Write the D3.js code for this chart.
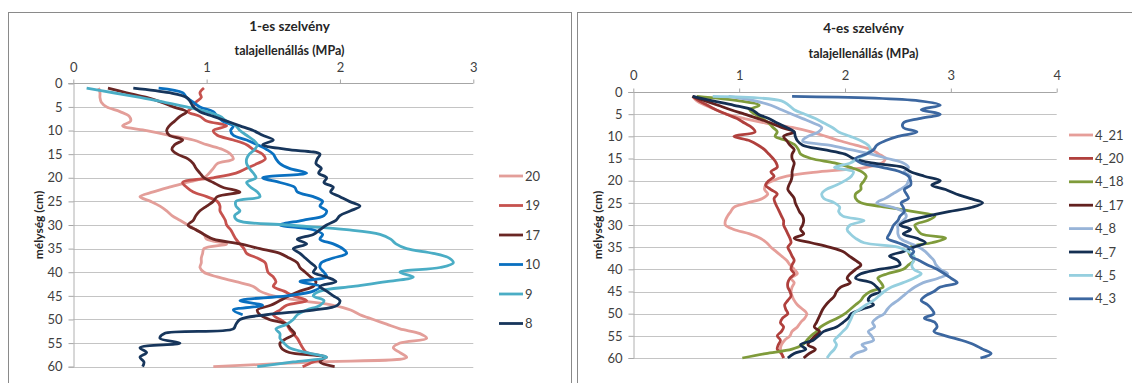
<!DOCTYPE html>
<html>
<head>
<meta charset="utf-8">
<script src="https://cdn.jsdelivr.net/npm/d3@7"></script>
<style>
  body { margin: 0; background: #fff; }
  svg { display: block; font-family: Lato, "Liberation Sans", sans-serif; }
</style>
</head>
<body>
<div id="chart"></div>
<script>
// depth in cm (shared by every profile)
const depths = [1,2,3,4,5,6,7,8,9,10,11,12,13,14,15,16,17,18,19,20,21,22,23,24,25,26,27,28,29,30,
  31,32,33,34,35,36,37,38,39,40,41,42,43,44,45,46,47,48,49,50,51,52,53,54,55,56,57,58,59,60];

// 1-es szelvény, talajellenállás (MPa)
const p1_20 = [0.19,0.2,0.2,0.21,0.25,0.35,0.42,0.43,0.37,0.55,0.72,0.9,1.0,1.12,1.18,1.2,1.08,1.05,1.02,0.98,
  0.85,0.72,0.6,0.5,0.58,0.65,0.7,0.74,0.8,0.86,0.92,0.98,1.0,1.15,0.98,0.97,0.96,0.96,0.95,0.98,
  1.08,1.22,1.35,1.4,1.5,1.7,1.95,2.08,2.15,2.25,2.35,2.45,2.6,2.65,2.45,2.4,2.45,2.5,1.8,1.05];
const p1_19 = [0.98,0.95,0.96,0.92,0.9,0.86,0.95,1.0,1.15,1.05,1.08,1.2,1.3,1.35,1.42,1.44,1.38,1.3,1.22,1.05,
  0.82,0.85,0.9,1.0,1.08,1.1,1.1,1.12,1.14,1.15,1.18,1.2,1.22,1.25,1.28,1.3,1.38,1.44,1.45,1.46,
  1.5,1.52,1.5,1.58,1.65,1.75,1.6,1.55,1.5,1.55,1.6,1.62,1.65,1.68,1.7,1.72,1.75,1.9,1.8,1.72];
const p1_17 = [0.26,0.4,0.55,0.66,0.75,0.85,0.8,0.76,0.72,0.7,0.72,0.82,0.76,0.74,0.78,0.86,0.9,0.92,0.95,0.98,
  1.05,1.12,1.25,1.08,1.05,1.0,0.95,0.92,0.9,0.86,0.92,0.98,1.05,1.25,1.4,1.55,1.62,1.68,1.7,1.74,
  1.78,1.82,1.8,1.7,1.62,1.55,1.48,1.38,1.4,1.47,1.6,1.63,1.66,1.6,1.55,1.56,1.62,1.88,1.85,1.96];
const p1_10 = [0.64,0.82,0.85,0.9,0.95,1.05,1.08,1.12,1.2,1.18,1.2,1.3,1.38,1.45,1.5,1.52,1.55,1.62,1.75,1.42,
  1.55,1.66,1.68,1.8,1.87,1.85,1.9,1.88,1.72,1.55,1.8,1.87,1.85,1.95,2.02,2.05,1.95,1.86,1.85,1.88,
  1.9,1.7,1.85,1.8,1.6,1.25,1.42,1.2,1.27];
const p1_9 = [0.1,0.3,0.5,0.68,0.85,1.0,1.1,1.15,1.22,1.25,1.3,1.35,1.38,1.36,1.32,1.3,1.3,1.32,1.35,1.37,
  1.3,1.33,1.38,1.4,1.22,1.22,1.25,1.21,1.23,1.6,2.05,2.3,2.38,2.42,2.5,2.7,2.82,2.85,2.75,2.45,
  2.55,2.35,2.1,1.85,1.8,1.88,1.85,1.75,1.68,1.65,1.6,1.52,1.55,1.55,1.58,1.62,1.75,1.9,1.65,1.38];
const p1_8 = [0.45,0.72,0.85,0.88,0.9,0.95,1.05,1.15,1.25,1.35,1.42,1.5,1.42,1.6,1.85,1.83,1.82,1.86,1.84,1.9,
  1.88,1.95,1.93,2.0,2.07,2.15,2.08,2.0,1.97,1.9,1.85,1.8,1.68,1.75,1.65,1.7,1.74,1.78,1.82,1.8,
  1.9,1.97,1.85,1.9,1.95,2.0,1.98,1.8,1.45,1.25,1.22,1.2,0.68,0.65,0.8,0.5,0.55,0.5,0.53,0.52];

// 4-es szelvény
const p4_21 = [0.56,0.6,0.68,0.78,0.88,1.05,1.25,1.5,1.68,1.82,1.95,2.1,2.25,2.32,2.38,2.35,2.2,1.75,1.45,1.32,
  1.25,1.24,1.27,1.22,1.08,0.95,0.92,0.89,0.87,0.87,0.95,1.1,1.2,1.26,1.3,1.35,1.4,1.45,1.48,1.52,
  1.55,1.49,1.52,1.5,1.49,1.5,1.52,1.55,1.6,1.64,1.62,1.58,1.55,1.5,1.48,1.43,1.4,1.39,1.4,1.42];
const p4_20 = [0.56,0.62,0.7,0.78,0.88,0.98,1.05,1.12,1.15,0.95,1.1,1.18,1.24,1.28,1.32,1.35,1.36,1.3,1.33,1.28,
  1.25,1.3,1.36,1.33,1.34,1.36,1.38,1.4,1.42,1.42,1.44,1.46,1.48,1.49,1.46,1.48,1.5,1.52,1.5,1.49,
  1.52,1.48,1.46,1.46,1.48,1.49,1.46,1.43,1.44,1.46,1.41,1.39,1.42,1.4,1.36,1.39,1.37,1.36,1.4,1.42];
const p4_18 = [0.6,1.0,1.19,1.1,1.15,1.22,1.28,1.32,1.36,1.34,1.45,1.53,1.56,1.58,1.68,1.9,2.05,2.16,2.2,2.18,
  2.15,2.15,2.1,2.1,2.15,2.4,2.65,2.85,2.78,2.66,2.68,2.72,2.95,2.82,2.62,2.6,2.62,2.65,2.6,2.55,
  2.4,2.31,2.34,2.36,2.24,2.18,2.15,2.1,2.05,2.0,1.93,1.84,1.77,1.73,1.68,1.64,1.6,1.5,1.25,1.03];
const p4_17 = [0.56,0.68,0.8,0.92,1.05,1.18,1.3,1.4,1.52,1.42,1.45,1.48,1.52,1.5,1.5,1.52,1.51,1.5,1.5,1.49,
  1.47,1.46,1.49,1.52,1.53,1.55,1.57,1.6,1.61,1.6,1.58,1.61,1.52,1.68,1.85,1.98,2.04,2.1,2.15,2.1,
  2.05,2.02,2.05,1.96,1.92,1.9,1.86,1.82,1.79,1.77,1.75,1.73,1.71,1.76,1.72,1.68,1.65,1.72,1.66,1.61];
const p4_8 = [0.9,1.15,1.3,1.4,1.5,1.6,1.7,1.78,1.75,1.65,1.6,1.85,2.05,2.25,2.4,2.55,2.6,2.56,2.62,2.6,
  2.58,2.52,2.45,2.38,2.3,2.45,2.55,2.58,2.55,2.5,2.5,2.5,2.52,2.6,2.7,2.76,2.8,2.84,2.86,2.9,
  2.97,2.88,2.74,2.66,2.6,2.55,2.5,2.44,2.4,2.37,2.3,2.26,2.28,2.22,2.25,2.27,2.16,2.2,2.1,2.05];
const p4_7 = [0.56,0.75,0.95,1.12,1.18,1.28,1.36,1.45,1.52,1.53,1.55,1.6,1.8,2.0,2.08,2.25,2.55,2.62,2.75,2.9,
  2.82,2.95,3.05,3.18,3.3,3.2,2.98,2.78,2.6,2.52,2.62,2.55,2.68,2.76,2.65,2.55,2.42,2.5,2.52,2.32,
  2.15,2.1,2.25,2.3,2.33,2.24,2.22,2.27,2.16,2.06,2.03,1.98,1.92,1.8,1.75,1.7,1.58,1.63,1.52,1.46];
const p4_5 = [0.75,1.4,1.47,1.52,1.62,1.72,1.8,1.88,1.94,2.05,2.15,2.22,2.24,2.2,2.12,2.05,1.9,2.08,2.06,2.0,
  1.92,1.82,1.78,1.8,1.9,1.95,1.94,1.98,2.18,2.05,2.02,2.05,2.1,2.18,2.5,2.6,2.65,2.65,2.63,2.65,
  2.72,2.65,2.55,2.44,2.37,2.32,2.27,2.2,2.14,2.08,2.06,2.04,2.02,1.98,1.94,1.9,1.92,1.9,1.86,1.83];
const p4_3 = [1.5,2.7,2.9,2.72,2.9,2.7,2.55,2.55,2.68,2.5,2.38,2.3,2.27,2.2,2.1,2.15,2.35,2.52,2.6,2.62,
  2.62,2.56,2.58,2.6,2.53,2.55,2.56,2.52,2.5,2.46,2.44,2.42,2.4,2.5,2.6,2.65,2.62,2.7,2.78,2.87,
  2.94,3.0,3.06,2.9,2.84,2.76,2.72,2.78,2.82,2.84,2.75,2.85,2.87,2.84,2.95,3.1,3.22,3.3,3.38,3.28];

const names1 = ["20", "19", "17", "10", "9", "8"];
const names4 = ["4_21", "4_20", "4_18", "4_17", "4_8", "4_7", "4_5", "4_3"];
const yTicks = [0, 5, 10, 15, 20, 25, 30, 35, 40, 45, 50, 55, 60];

const panels = [
  {
    title: "1-es szelvény", left: 8, right: 571,
    x0: 73.3, x1: 473.3, xMax: 3, y0: 83.3, y1: 366.7,
    titleY: 31, subY: 55, tickY: 71, yTitleX: 43,
    legX: 499, legY: 176, legStep: 29.5,
    series: [
      {name: names1[0], values: p1_20, color: "#e39e99"},
      {name: names1[1], values: p1_19, color: "#c6524e"},
      {name: names1[2], values: p1_17, color: "#6a2624"},
      {name: names1[3], values: p1_10, color: "#0a70c0"},
      {name: names1[4], values: p1_9, color: "#4aadc5"},
      {name: names1[5], values: p1_8, color: "#17365c"}
    ]
  },
  {
    title: "4-es szelvény", left: 577, right: 1150,
    x0: 633.3, x1: 1056.7, xMax: 4, y0: 92, y1: 358,
    titleY: 33, subY: 58, tickY: 79, yTitleX: 602,
    legX: 1069, legY: 135, legStep: 23.4,
    series: [
      {name: names4[0], values: p4_21, color: "#e69e99"},
      {name: names4[1], values: p4_20, color: "#b0403d"},
      {name: names4[2], values: p4_18, color: "#7f9b3b"},
      {name: names4[3], values: p4_17, color: "#63211f"},
      {name: names4[4], values: p4_8, color: "#98b4d8"},
      {name: names4[5], values: p4_7, color: "#142f52"},
      {name: names4[6], values: p4_5, color: "#95cfdf"},
      {name: names4[7], values: p4_3, color: "#3c67a0"}
    ]
  }
];

const svg = d3.select("#chart").append("svg")
  .attr("width", 1132)
  .attr("height", 383);

panels.forEach(p => {
  const g = svg.append("g");

  g.append("rect")
    .attr("x", p.left + 0.5).attr("y", 12.5)
    .attr("width", p.right - p.left).attr("height", 400)
    .attr("fill", "#fff").attr("stroke", "#8a8a8a");

  const x = d3.scaleLinear().domain([0, p.xMax]).range([p.x0, p.x1]);
  const y = d3.scaleLinear().domain([0, 60]).range([p.y0, p.y1]);
  const cx = (p.left + p.right) / 2;

  // gridlines
  g.append("g").selectAll("line").data(yTicks.slice(1)).join("line")
    .attr("x1", p.x0).attr("x2", p.x1)
    .attr("y1", d => Math.round(y(d)) + 0.5).attr("y2", d => Math.round(y(d)) + 0.5)
    .attr("stroke", "#c4c4c4");

  // top axis
  const xAxis = g.append("g")
    .attr("transform", "translate(0," + (Math.round(p.y0) + 0.5) + ")")
    .call(d3.axisTop(x).ticks(p.xMax).tickSize(4).tickPadding(7).tickFormat(d3.format("d")));
  xAxis.select(".domain").attr("stroke", "#a6a6a6").attr("d", "M" + (p.x0 - 5) + ",0H" + p.x1);
  xAxis.selectAll(".tick line").attr("stroke", "#a6a6a6");
  xAxis.selectAll(".tick text").attr("font-size", 13).attr("fill", "#404040")
    .attr("font-family", "Lato, sans-serif").attr("y", null)
    .attr("dy", null).attr("transform", "translate(0," + (p.tickY - Math.round(p.y0)) + ")");

  // left axis
  const yAxis = g.append("g")
    .attr("transform", "translate(" + (Math.round(p.x0) + 0.5) + ",0)")
    .call(d3.axisLeft(y).tickValues(yTicks).tickSize(5).tickPadding(6));
  yAxis.select(".domain").attr("stroke", "#b0b0b0");
  yAxis.selectAll(".tick line").attr("stroke", "#a6a6a6");
  yAxis.selectAll(".tick text").attr("font-size", 13).attr("fill", "#404040")
    .attr("font-family", "Lato, sans-serif");

  // titles
  g.append("text").attr("x", cx).attr("y", p.titleY)
    .attr("text-anchor", "middle").attr("font-size", 13.5).attr("font-weight", "bold")
    .attr("fill", "#262626").text(p.title);
  g.append("text").attr("x", cx).attr("y", p.subY)
    .attr("text-anchor", "middle").attr("font-size", 12.5).attr("font-weight", "bold")
    .attr("fill", "#262626").text("talajellenállás (MPa)");
  g.append("text")
    .attr("transform", "translate(" + p.yTitleX + "," + ((p.y0 + p.y1) / 2) + ")rotate(-90)")
    .attr("text-anchor", "middle").attr("font-size", 12).attr("font-weight", "bold")
    .attr("fill", "#262626").text("mélység (cm)");

  // profiles
  const line = d3.line()
    .x(d => x(d[0]))
    .y(d => y(d[1]))
    .curve(d3.curveCatmullRom.alpha(0.5));

  g.append("g").selectAll("path").data(p.series).join("path")
    .attr("d", s => line(s.values.map((v, i) => [v, depths[i]])))
    .attr("fill", "none")
    .attr("stroke", s => s.color)
    .attr("stroke-width", 2.8)
    .attr("stroke-linejoin", "round");

  // legend
  const leg = g.append("g").selectAll("g").data(p.series).join("g")
    .attr("transform", (s, i) => "translate(" + p.legX + "," + (p.legY + i * p.legStep) + ")");
  leg.append("line").attr("x1", 0).attr("x2", 24)
    .attr("stroke", s => s.color).attr("stroke-width", 2.8);
  leg.append("text").attr("x", 26).attr("dy", "0.35em")
    .attr("font-size", 13).attr("fill", "#404040").text(s => s.name);
});
</script>
</body>
</html>
